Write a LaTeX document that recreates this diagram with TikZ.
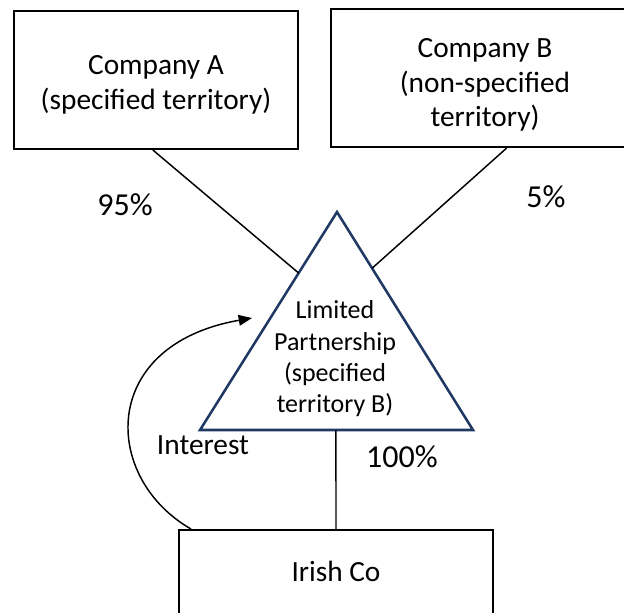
\documentclass[tikz,border=0pt]{standalone}
\usepackage{fontspec}
\setmainfont{Carlito}
\usetikzlibrary{arrows.meta,calc}
\definecolor{navy}{HTML}{203864}
\tikzset{
  box/.style={draw=black,line width=1.5pt,rectangle,inner sep=0pt},
  boxtxt/.style={inner sep=0pt,align=center,font=\fontsize{22}{26}\selectfont},
  lbl/.style={inner sep=0pt,font=\fontsize{22}{26}\selectfont},
  pct/.style={inner sep=0pt,font=\fontsize{24}{28}\selectfont},
  trilbl/.style={inner sep=0pt,align=center,font=\fontsize{19.5}{23.5}\selectfont},
  conn/.style={draw=black,line width=1.1pt},
  tri/.style={draw=navy,line width=1.9pt,line join=miter},
}
\begin{document}
\begin{tikzpicture}[x=0.75pt,y=-0.75pt]
\useasboundingbox (0,0) rectangle (624,612);
\clip (0,0) rectangle (624,612);
% boxes
\node[box,minimum width=213pt,minimum height=103.5pt] (A) at (156,80) {};
\node[boxtxt] (Atxt) at (156,85) {Company A\\(specified territory)};
\node[box,minimum width=231pt,minimum height=103.5pt] (B) at (485,78) {};
\node[boxtxt] (Btxt) at (485,85) {Company B\\(non-specified\\territory)};
\node[box,minimum width=235.5pt,minimum height=63pt] (I) at (336,572) {};
\node[boxtxt] (Itxt) at (336,571) {Irish Co};
% triangle
\coordinate (apex) at (337,212);
\coordinate (bl) at (200,430);
\coordinate (br) at (473,430);
\draw[tri] (apex) -- (bl) -- (br) -- cycle;
\node[trilbl] (LP) at (335,359) {Limited\\Partnership\\(specified\\territory B)};
% connector end points on triangle
\coordinate (aend) at ($(apex)!0.28!(bl)$);
\coordinate (bend) at ($(apex)!0.258!(br)$);
\coordinate (bmid) at ($(bl)!0.498!(br)$);
\coordinate (bstart) at ($(B.south west)!0.57!(B.south east)$);
\coordinate (astart) at ($(A.south west)!0.489!(A.south east)$);
\draw[conn] (astart) -- (aend);
\draw[conn] (bstart) -- (bend);
\draw[conn] (bmid) -- (I.north);
% arc
\coordinate (arcstart) at ($(I.north west)+(13,0)$);
\coordinate (arctip) at (252,318);
\draw[conn,-{Triangle[length=10pt,width=8pt]}] (arcstart) .. controls (102,478) and (98,345) .. (arctip);
% labels
\node[pct] (p95) at (125,205) {95\%};
\node[pct] (p5) at (546,197) {5\%};
\node[pct] (p100) at (402,457) {100\%};
\node[lbl] (int) at (203,445) {Interest};
\end{tikzpicture}
\end{document}
